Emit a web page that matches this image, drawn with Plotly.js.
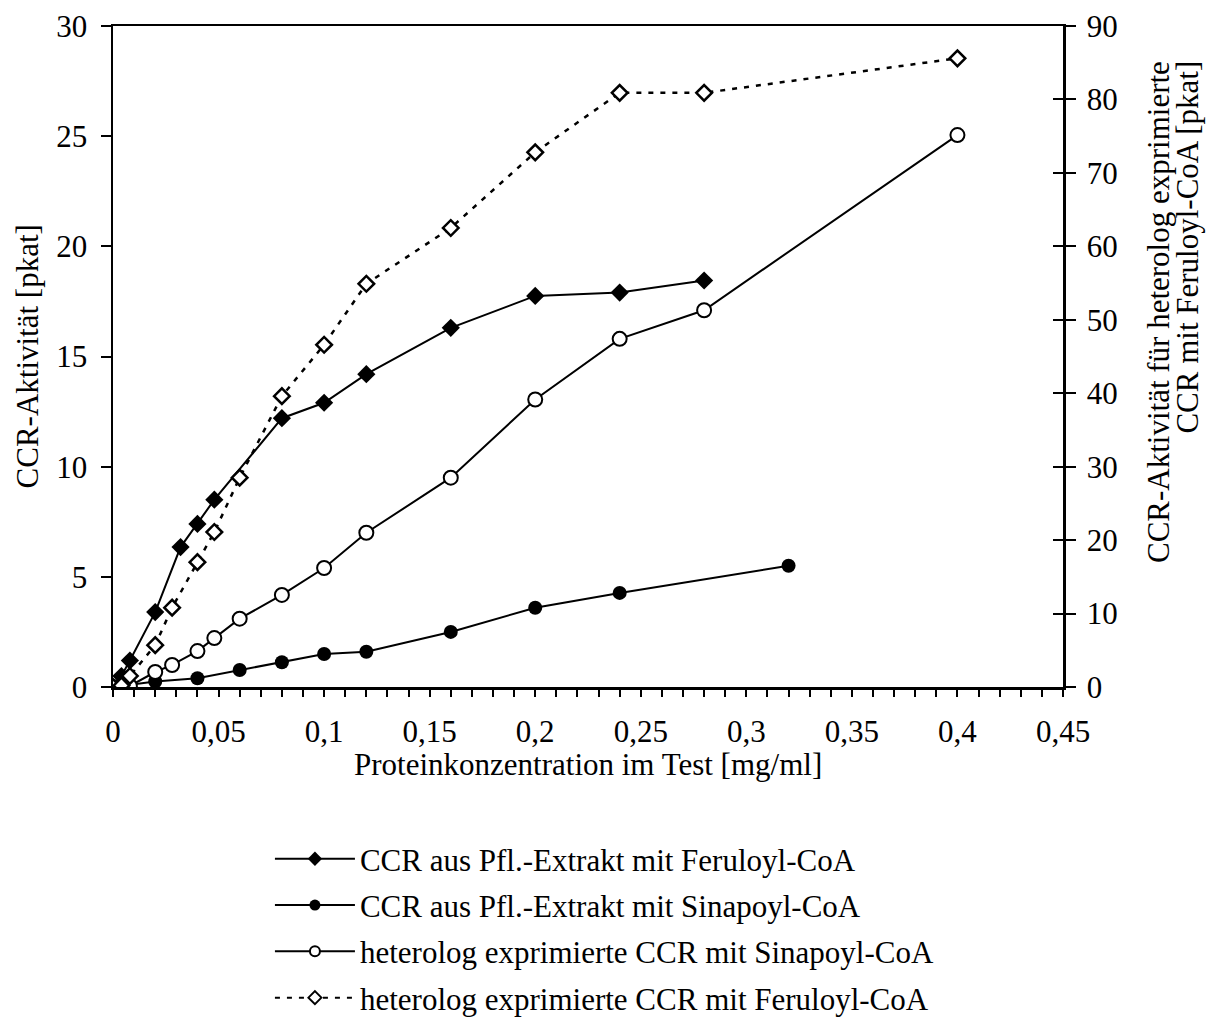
<!DOCTYPE html>
<html>
<head>
<meta charset="utf-8">
<script src="https://cdn.plot.ly/plotly-3.0.1.min.js"></script>
<style>html,body{margin:0;padding:0;background:#fff;}#chart{width:1211px;height:1021px;}</style>
</head>
<body>
<div id="chart"></div>
<script>
// Series 1: CCR aus Pfl.-Extrakt mit Feruloyl-CoA (left axis)
const pflFerX = [0, 0.004, 0.008, 0.02, 0.032, 0.04, 0.048, 0.08, 0.1, 0.12, 0.16, 0.2, 0.24, 0.28];
const pflFerY = [0, 0.5, 1.2, 3.4, 6.35, 7.4, 8.5, 12.2, 12.9, 14.2, 16.3, 17.75, 17.9, 18.45];
// Series 2: CCR aus Pfl.-Extrakt mit Sinapoyl-CoA (left axis)
const pflSinX = [0, 0.02, 0.04, 0.06, 0.08, 0.1, 0.12, 0.16, 0.2, 0.24, 0.32];
const pflSinY = [0, 0.25, 0.4, 0.77, 1.12, 1.5, 1.6, 2.5, 3.6, 4.27, 5.5];
// Series 3: heterolog exprimierte CCR mit Sinapoyl-CoA (left axis)
const hetSinX = [0, 0.008, 0.02, 0.028, 0.04, 0.048, 0.06, 0.08, 0.1, 0.12, 0.16, 0.2, 0.24, 0.28, 0.4];
const hetSinY = [0, 0.05, 0.68, 1.0, 1.63, 2.22, 3.1, 4.18, 5.4, 7.0, 9.5, 13.05, 15.8, 17.1, 25.05];
// Series 4: heterolog exprimierte CCR mit Feruloyl-CoA (right axis)
const hetFerX = [0, 0.004, 0.008, 0.02, 0.028, 0.04, 0.048, 0.06, 0.08, 0.1, 0.12, 0.16, 0.2, 0.24, 0.28, 0.4];
const hetFerY = [0, 0.2, 1.5, 5.7, 10.8, 17.0, 21.1, 28.5, 39.6, 46.6, 54.9, 62.5, 72.8, 80.9, 80.9, 85.6];

const seriesNames = [
  'CCR aus Pfl.-Extrakt mit Feruloyl-CoA',
  'CCR aus Pfl.-Extrakt mit Sinapoyl-CoA',
  'heterolog exprimierte CCR mit Sinapoyl-CoA',
  'heterolog exprimierte CCR mit Feruloyl-CoA'
];

const xTickVals = [0, 0.05, 0.1, 0.15, 0.2, 0.25, 0.3, 0.35, 0.4, 0.45];
const xTickText = ['0', '0,05', '0,1', '0,15', '0,2', '0,25', '0,3', '0,35', '0,4', '0,45'];

const xTitle = 'Proteinkonzentration im Test [mg/ml]';
const yTitle = 'CCR-Aktivität [pkat]';
const y2TitleLines = ['CCR-Aktivität für heterolog exprimierte', 'CCR mit Feruloyl-CoA [pkat]'];

const FONT = 'Liberation Serif, Times New Roman, serif';
const FS = 31;

const styles = [
  {line: {color: '#000', width: 2}, marker: {symbol: 'diamond', size: 14, color: '#000'}, legMarker: {symbol: 'diamond', size: 11, color: '#000'}},
  {line: {color: '#000', width: 2}, marker: {symbol: 'circle', size: 14, color: '#000'}, legMarker: {symbol: 'circle', size: 11, color: '#000'}},
  {line: {color: '#000', width: 2}, marker: {symbol: 'circle', size: 14, color: '#fff', line: {color: '#000', width: 2}}, legMarker: {symbol: 'circle', size: 10, color: '#fff', line: {color: '#000', width: 2}}},
  {line: {color: '#000', width: 2.5, dash: '5px,7px'}, marker: {symbol: 'diamond', size: 12, color: '#fff', line: {color: '#000', width: 2.5}}, legMarker: {symbol: 'diamond', size: 10, color: '#fff', line: {color: '#000', width: 2}}}
];

const dataX = [pflFerX, pflSinX, hetSinX, hetFerX];
const dataY = [pflFerY, pflSinY, hetSinY, hetFerY];
const axes = ['y', 'y', 'y', 'y2'];

const traces = [];
for (let i = 0; i < 4; i++) {
  traces.push({x: dataX[i], y: dataY[i], name: seriesNames[i], type: 'scatter', mode: 'lines+markers',
    yaxis: axes[i], showlegend: false, line: styles[i].line, marker: styles[i].marker});
}
// legend entries (smaller legend symbols, as in the original)
for (let i = 0; i < 4; i++) {
  traces.push({x: [null], y: [null], name: seriesNames[i], type: 'scatter', mode: 'lines+markers',
    legendgroup: 'g' + i, showlegend: true,
    line: {color: '#000', width: 2, dash: styles[i].line.dash || 'solid'}, marker: styles[i].legMarker});
}
// invisible trace to activate yaxis3 (crossing ticks on the right axis)
traces.push({x: [0], y: [0], yaxis: 'y3', mode: 'markers', marker: {opacity: 0}, showlegend: false, hoverinfo: 'skip'});

const annFont = {family: FONT, size: FS, color: '#000'};

const layout = {
  width: 1211, height: 1021,
  margin: {l: 113, r: 148, t: 26, b: 334, autoexpand: false},
  paper_bgcolor: '#fff', plot_bgcolor: '#fff',
  font: {family: FONT, size: FS, color: '#000'},
  showlegend: true,
  legend: {
    xref: 'container', yref: 'container',
    x: 0.2229, xanchor: 'left', y: 0.185, yanchor: 'top',
    font: {family: FONT, size: FS, color: '#000'},
    itemwidth: 80, traceorder: 'grouped', tracegroupgap: 3,
    bgcolor: 'rgba(0,0,0,0)'
  },
  xaxis: {
    range: [0, 0.45], showgrid: false, zeroline: false,
    showline: true, linecolor: '#000', linewidth: 2.5, mirror: true,
    tickmode: 'array', tickvals: xTickVals, ticktext: xTickText,
    ticks: 'outside', ticklen: 7, tickwidth: 2, tickcolor: '#000',
    ticklabelstandoff: 8,
    minor: {tick0: 0, dtick: 0.01, ticks: 'outside', ticklen: 7, tickwidth: 2, tickcolor: '#000', showgrid: false},
    tickfont: {family: FONT, size: FS}
  },
  yaxis: {
    range: [0, 30], dtick: 5, showgrid: false, zeroline: false,
    showline: true, linecolor: '#000', linewidth: 2.5,
    ticks: 'outside', ticklen: 10, tickwidth: 2, tickcolor: '#000',
    ticklabelstandoff: 7,
    tickfont: {family: FONT, size: FS}
  },
  yaxis2: {
    range: [0, 90], dtick: 10, overlaying: 'y', side: 'right', anchor: 'x',
    showgrid: false, zeroline: false,
    showline: true, linecolor: '#000', linewidth: 2.5,
    ticks: 'outside', ticklen: 10, tickwidth: 2, tickcolor: '#000',
    ticklabelstandoff: 5,
    tickfont: {family: FONT, size: FS}
  },
  yaxis3: {
    range: [0, 90], dtick: 10, overlaying: 'y', side: 'right', anchor: 'x',
    showgrid: false, zeroline: false, showline: false, showticklabels: false,
    ticks: 'inside', ticklen: 10, tickwidth: 2, tickcolor: '#000'
  },
  annotations: [
    {text: xTitle, xref: 'paper', yref: 'paper', x: 0.5, y: -0.1165, xanchor: 'center', yanchor: 'middle',
     showarrow: false, font: annFont},
    {text: yTitle, xref: 'paper', yref: 'paper', x: -0.0895, y: 0.5, xanchor: 'center', yanchor: 'middle',
     textangle: -90, showarrow: false, font: annFont},
    {text: y2TitleLines[0], xref: 'paper', yref: 'paper', x: 1.1, y: 0.95, xanchor: 'center', yanchor: 'top',
     textangle: -90, showarrow: false, font: annFont},
    {text: y2TitleLines[1], xref: 'paper', yref: 'paper', x: 1.1316, y: 0.95, xanchor: 'center', yanchor: 'top',
     textangle: -90, showarrow: false, font: annFont}
  ]
};

Plotly.newPlot('chart', traces, layout, {displayModeBar: false, staticPlot: true});
</script>
</body>
</html>
